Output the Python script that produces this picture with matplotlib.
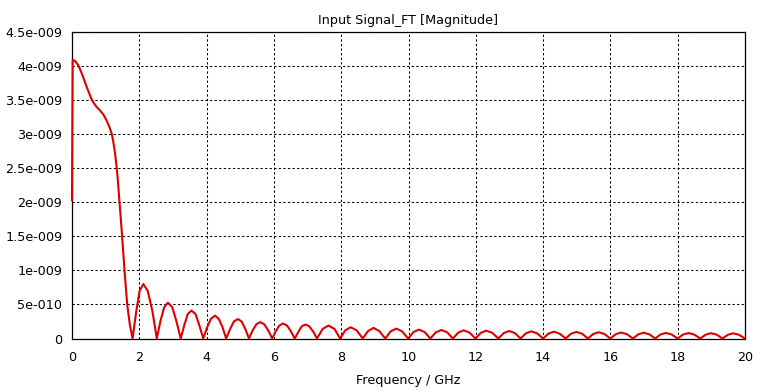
import numpy as np
import matplotlib
matplotlib.use("Agg")
import matplotlib.pyplot as plt

# Frekans (GHz) ve genlik (x1e-9)
freq_ghz = [
    0.00, 0.02, 0.08, 0.19, 0.30, 0.44, 0.55, 0.63, 0.73, 0.83, 0.93, 1.03, 1.10,
    1.18, 1.23, 1.28, 1.35, 1.41, 1.49, 1.56, 1.64, 1.72, 1.80,
    1.91, 2.01, 2.12, 2.25, 2.39, 2.52,
    2.63, 2.74, 2.85, 2.98, 3.10, 3.23,
    3.34, 3.44, 3.55, 3.67, 3.78, 3.90,
    4.02, 4.13, 4.25, 4.36, 4.47, 4.58,
    4.70, 4.81, 4.93, 5.04, 5.15, 5.26,
    5.37, 5.48, 5.59, 5.71, 5.83, 5.95,
    6.06, 6.16, 6.27, 6.39, 6.50, 6.62,
    6.73, 6.83, 6.94, 7.05, 7.17, 7.28,
    7.45, 7.62, 7.80, 7.97,
    8.12, 8.28, 8.46, 8.64,
    8.80, 8.96, 9.13, 9.31,
    9.47, 9.64, 9.81, 9.99,
    10.15, 10.31, 10.48, 10.65,
    10.81, 10.98, 11.15, 11.32,
    11.48, 11.64, 11.81, 11.99,
    12.15, 12.31, 12.49, 12.67,
    12.83, 12.99, 13.16, 13.33,
    13.49, 13.65, 13.82, 14.00,
    14.16, 14.32, 14.49, 14.67,
    14.83, 14.99, 15.16, 15.33,
    15.49, 15.65, 15.82, 16.00,
    16.16, 16.32, 16.49, 16.67,
    16.83, 16.99, 17.16, 17.33,
    17.49, 17.65, 17.82, 18.00,
    18.16, 18.32, 18.49, 18.67,
    18.83, 18.99, 19.16, 19.33,
    19.49, 19.65, 19.82, 20.00,
]
genlik = [
    2.03, 4.09, 4.08, 4.01, 3.88, 3.69, 3.55, 3.47, 3.40, 3.35, 3.29, 3.20, 3.12,
    3.01, 2.88, 2.72, 2.40, 2.02, 1.50, 1.00, 0.50, 0.20, 0.00,
    0.40, 0.70, 0.80, 0.70, 0.40, 0.00,
    0.26, 0.46, 0.525, 0.46, 0.26, 0.00,
    0.20, 0.36, 0.41, 0.36, 0.20, 0.00,
    0.17, 0.29, 0.335, 0.29, 0.17, 0.00,
    0.14, 0.25, 0.285, 0.25, 0.14, 0.00,
    0.12, 0.21, 0.24, 0.21, 0.12, 0.00,
    0.11, 0.19, 0.22, 0.19, 0.11, 0.00,
    0.10, 0.18, 0.205, 0.18, 0.10, 0.00,
    0.14, 0.19, 0.14, 0.00,
    0.12, 0.165, 0.12, 0.00,
    0.11, 0.155, 0.11, 0.00,
    0.105, 0.145, 0.105, 0.00,
    0.095, 0.13, 0.095, 0.00,
    0.09, 0.125, 0.09, 0.00,
    0.087, 0.12, 0.087, 0.00,
    0.083, 0.115, 0.083, 0.00,
    0.08, 0.11, 0.08, 0.00,
    0.076, 0.105, 0.076, 0.00,
    0.072, 0.10, 0.072, 0.00,
    0.07, 0.097, 0.07, 0.00,
    0.066, 0.092, 0.066, 0.00,
    0.063, 0.088, 0.063, 0.00,
    0.061, 0.085, 0.061, 0.00,
    0.059, 0.082, 0.059, 0.00,
    0.058, 0.08, 0.058, 0.00,
    0.056, 0.078, 0.056, 0.00,
    0.055, 0.076, 0.055, 0.00,
]

x_ticks = [0, 2, 4, 6, 8, 10, 12, 14, 16, 18, 20]
y_ticks = [0, 0.5e-9, 1e-9, 1.5e-9, 2e-9, 2.5e-9, 3e-9, 3.5e-9, 4e-9, 4.5e-9]
y_tick_labels = ["0", "5e-010", "1e-009", "1.5e-009", "2e-009", "2.5e-009",
                 "3e-009", "3.5e-009", "4e-009", "4.5e-009"]

plt.rcParams['font.family'] = ['DejaVu Sans']
yazi = 9.2

fig = plt.figure(figsize=(7.59, 3.91), dpi=100)
ax = fig.add_axes([72 / 759, (391 - 338.5) / 391, (745 - 72) / 759, (338.5 - 32) / 391])

ax.plot(np.array(freq_ghz), np.array(genlik) * 1e-9, color="#dc0000", linewidth=1.5,
        clip_on=False, zorder=3)

ax.set_xlim(0, 20)
ax.set_ylim(0, 4.5e-9)
ax.set_xticks(x_ticks)
ax.set_xticklabels([str(t) for t in x_ticks])
ax.set_yticks(y_ticks)
ax.set_yticklabels(y_tick_labels)
ax.tick_params(axis="x", length=0, pad=9, labelsize=yazi)
ax.tick_params(axis="y", length=0, pad=7, labelsize=yazi)

ax.grid(True, color="black", linestyle=(0, (2.2, 2.2)), linewidth=0.75)
for s in ax.spines.values():
    s.set_color("black")
    s.set_linewidth(0.9)

ax.set_title("Input Signal_FT [Magnitude]", fontsize=yazi, pad=6)
ax.set_xlabel("Frequency / GHz", fontsize=yazi, labelpad=7)

fig.savefig("out.png", dpi=100)
